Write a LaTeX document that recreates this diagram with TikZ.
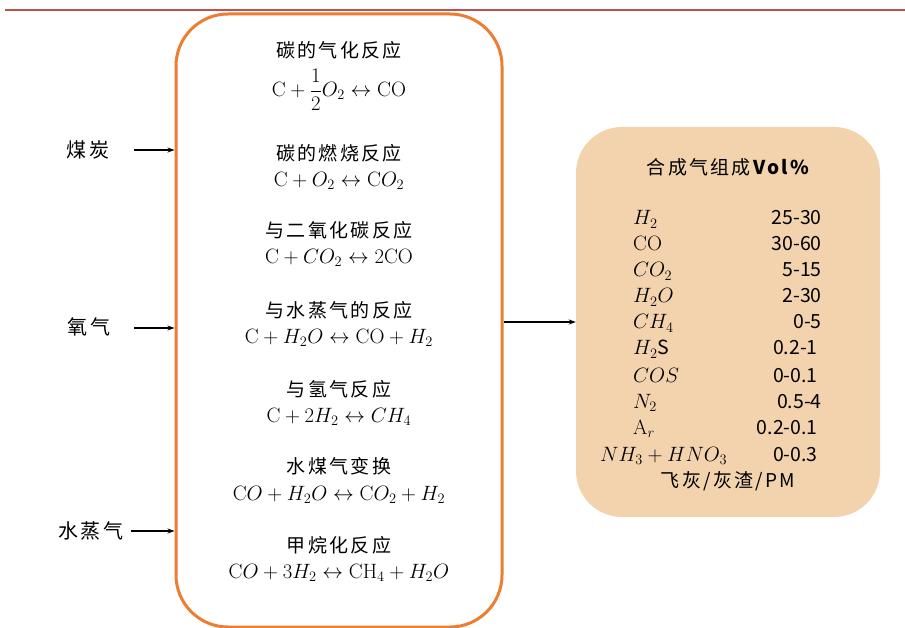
\documentclass[tikz,border=0pt]{standalone}
\usepackage{amsmath}
\usepackage[no-math]{fontspec}
\setmainfont{Noto Sans CJK SC}
\newfontfamily\cjkwide[LetterSpace=12]{Noto Sans CJK SC}
\usetikzlibrary{arrows.meta}
\definecolor{boxorange}{HTML}{ED7D31}
\definecolor{beige}{HTML}{F2D3AE}
\definecolor{topred}{HTML}{C0504D}
\begin{document}
\begin{tikzpicture}[x=1pt,y=-1pt,
  cn/.style={font=\cjkwide\fontsize{19}{22}\selectfont, inner sep=0pt, anchor=center},
  eq/.style={font=\fontsize{22}{26}\selectfont, inner sep=0pt, anchor=center},
  lab/.style={font=\cjkwide\fontsize{20}{22}\selectfont, inner sep=0pt, anchor=center},
  row/.style={font=\fontsize{19.5}{22}\selectfont, inner sep=0pt},
  feed/.style={-{Stealth[length=7pt,width=5pt]}, line width=1.2pt, black}]
\useasboundingbox (0,0) rectangle (905,628);
% top rule
\draw[topred, line width=2pt] (5,10) -- (905,10);
% reactor box
\node (reactor) [draw=boxorange, line width=3pt, rounded corners=52pt,
  minimum width=326pt, minimum height=613pt, inner sep=0pt] at (339,320.5) {};
% gas box
\node (gas) [fill=beige, rounded corners=46pt,
  minimum width=304pt, minimum height=390pt, inner sep=0pt] at (728,322) {};
% reactions
\node[cn] (t1) at (339,50) {碳的气化反应};
\node[eq] (e1) at (339,90) {$\mathrm{C}+{\displaystyle\frac{1}{2}}O_2\leftrightarrow\mathrm{CO}$};
\node[cn] (t2) at (339,153) {碳的燃烧反应};
\node[eq] (e2) at (339,181) {$\mathrm{C}+O_2\leftrightarrow\mathrm{C}O_2$};
\node[cn] (t3) at (339,230) {与二氧化碳反应};
\node[eq] (e3) at (339,258) {$\mathrm{C}+CO_2\leftrightarrow2\mathrm{CO}$};
\node[cn] (t4) at (339,310) {与水蒸气的反应};
\node[eq] (e4) at (339,338) {$\mathrm{C}+H_2O\leftrightarrow\mathrm{CO}+H_2$};
\node[cn] (t5) at (339,389) {与氢气反应};
\node[eq] (e5) at (339,417) {$\mathrm{C}+2H_2\leftrightarrow CH_4$};
\node[cn] (t6) at (339,466) {水煤气变换};
\node[eq] (e6) at (339,495) {$\mathrm{C}O+H_2O\leftrightarrow\mathrm{C}O_2+H_2$};
\node[cn] (t7) at (339,545) {甲烷化反应};
\node[eq] (e7) at (339,573) {$\mathrm{C}O+3H_2\leftrightarrow\mathrm{CH}_4+H_2O$};
% feeds
\node[lab] (coal) at (88,150) {煤炭};
\node[lab] (oxy) at (89,327) {氧气};
\node[lab] (steam) at (91,531) {水蒸气};
\coordinate (f1) at (134,150);
\coordinate (f2) at (134,328);
\coordinate (f3) at (131,531);
\draw[feed] (f1) -- (f1 -| reactor.west);
\draw[feed] (f2) -- (f2 -| reactor.west);
\draw[feed] (f3) -- (f3 -| reactor.west);
% output
\draw[feed] (reactor.east |- 0,322) -- (gas.west);
% gas composition
\node[font=\cjkwide\fontsize{19}{22}\selectfont, inner sep=0pt] (title) at (729,167) {合成气组成\textbf{Vol\%}};
\node[row, anchor=base west] (g1) at (633,225) {$H_2$};
\node[row, anchor=base east] (v1) at (822,225) {25-30};
\node[row, anchor=base west] (g2) at (633,251) {$\mathrm{CO}$};
\node[row, anchor=base east] (v2) at (822,251) {30-60};
\node[row, anchor=base west] (g3) at (633,277) {$CO_2$};
\node[row, anchor=base east] (v3) at (822,277) {5-15};
\node[row, anchor=base west] (g4) at (633,303) {$H_2O$};
\node[row, anchor=base east] (v4) at (822,303) {2-30};
\node[row, anchor=base west] (g5) at (633,329) {$CH_4$};
\node[row, anchor=base east] (v5) at (822,329) {0-5};
\node[row, anchor=base west] (g6) at (633,355) {$H_2$S};
\node[row, anchor=base east] (v6) at (818,355) {0.2-1};
\node[row, anchor=base west] (g7) at (633,382) {$COS$};
\node[row, anchor=base east] (v7) at (818,382) {0-0.1};
\node[row, anchor=base west] (g8) at (633,408) {$N_2$};
\node[row, anchor=base east] (v8) at (822,408) {0.5-4};
\node[row, anchor=base west] (g9) at (633,434) {$\mathrm{A}_r$};
\node[row, anchor=base east] (v9) at (818,434) {0.2-0.1};
\node[row, anchor=base west] (g10) at (600,461) {$NH_3+HNO_3$};
\node[row, anchor=base east] (v10) at (818,461) {0-0.3};
\node[row, font=\cjkwide\fontsize{19}{22}\selectfont, anchor=center] (g11) at (728,481) {飞灰/灰渣/PM};
\end{tikzpicture}
\end{document}
